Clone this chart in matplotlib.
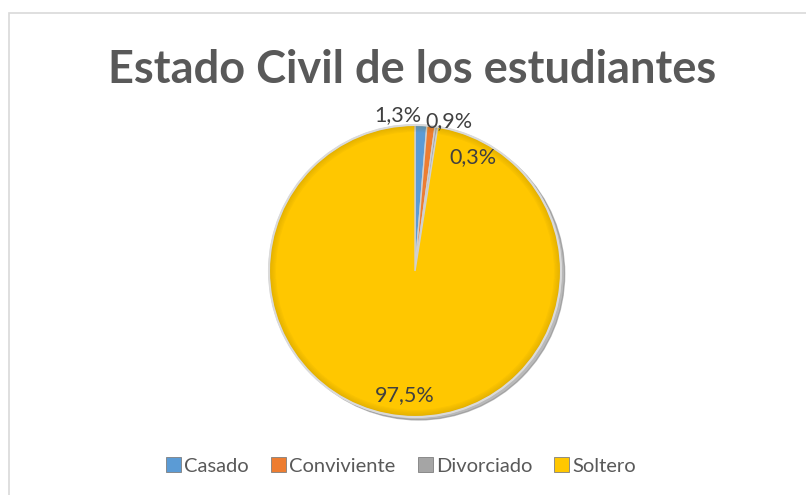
import matplotlib
matplotlib.use("Agg")
import matplotlib.pyplot as plt
from matplotlib.patches import Patch, Rectangle, Circle, Wedge
import numpy as np

categories = ["Casado", "Conviviente", "Divorciado", "Soltero"]
values = [1.3, 0.9, 0.3, 97.5]
labels = ["1,3%", "0,9%", "0,3%", "97,5%"]
colors = ["#5B9BD5", "#ED7D31", "#A5A5A5", "#FFC700"]
title = "Estado Civil de los estudiantes"

plt.rcParams['font.family'] = ['Lato', 'DejaVu Sans']

W, H = 806, 495
fig = plt.figure(figsize=(W / 100, H / 100), dpi=100)
fig.patch.set_facecolor("white")

# chart border
fig.add_artist(Rectangle((9 / W, -0.1), 1.2, (H - 13) / H + 0.1, transform=fig.transFigure,
                         fill=False, edgecolor="#D9D9D9", linewidth=1.2))

cx, cy, r = 415, H - 271, 146
ax = fig.add_axes([(cx - r) / W, (cy - r) / H, 2 * r / W, 2 * r / H])

# shadow
ax.add_patch(Circle((0.025, -0.02), 1.0, color="#808080", alpha=0.55, zorder=0, clip_on=False))

wedges, _ = ax.pie(values, colors=colors, startangle=90, counterclock=False, radius=1.0,
                   wedgeprops=dict(edgecolor="#D0D0D0", linewidth=1.0))
for w in wedges:
    w.set_zorder(1)
    w.set_clip_on(False)

# bevel rim shading
for i in range(6):
    rr = 1.0 - i * 0.008
    ax.add_patch(Wedge((0, 0), rr, 0, 360, width=0.008, facecolor="#8a6a00",
                       alpha=0.25 - i * 0.04, edgecolor="none", zorder=2, clip_on=False))
ax.add_patch(Circle((0, 0), 1.0, fill=False, edgecolor="#DADADA", linewidth=1.5, zorder=3,
                    clip_on=False))

ax.set_xlim(-1.0, 1.0)
ax.set_ylim(-1.0, 1.0)
ax.set_aspect("equal")
ax.axis("off")

label_pos = [(-0.12, 1.07), (0.23, 1.03), (0.40, 0.78), (-0.07, -0.85)]
for lab, (x, y) in zip(labels, label_pos):
    ax.text(x, y, lab, ha="center", va="center", fontsize=15.5, color="#404040", zorder=5,
            clip_on=False)

fig.text(412 / W, 1 - 70 / H, title, ha="center", va="center", fontsize=32.5,
         fontweight="bold", color="#595959")

handles = [Patch(facecolor=c, edgecolor="#7f7f7f", linewidth=0.6) for c in colors]
leg = fig.legend(handles, categories, loc="center", bbox_to_anchor=(401 / W, 1 - 466 / H),
                 ncol=4, frameon=False, fontsize=14.5, handlelength=0.75, handleheight=0.75,
                 handletextpad=0.15, columnspacing=1.1)
for t in leg.get_texts():
    t.set_color("#595959")

fig.savefig("out.png", dpi=100, facecolor="white")
